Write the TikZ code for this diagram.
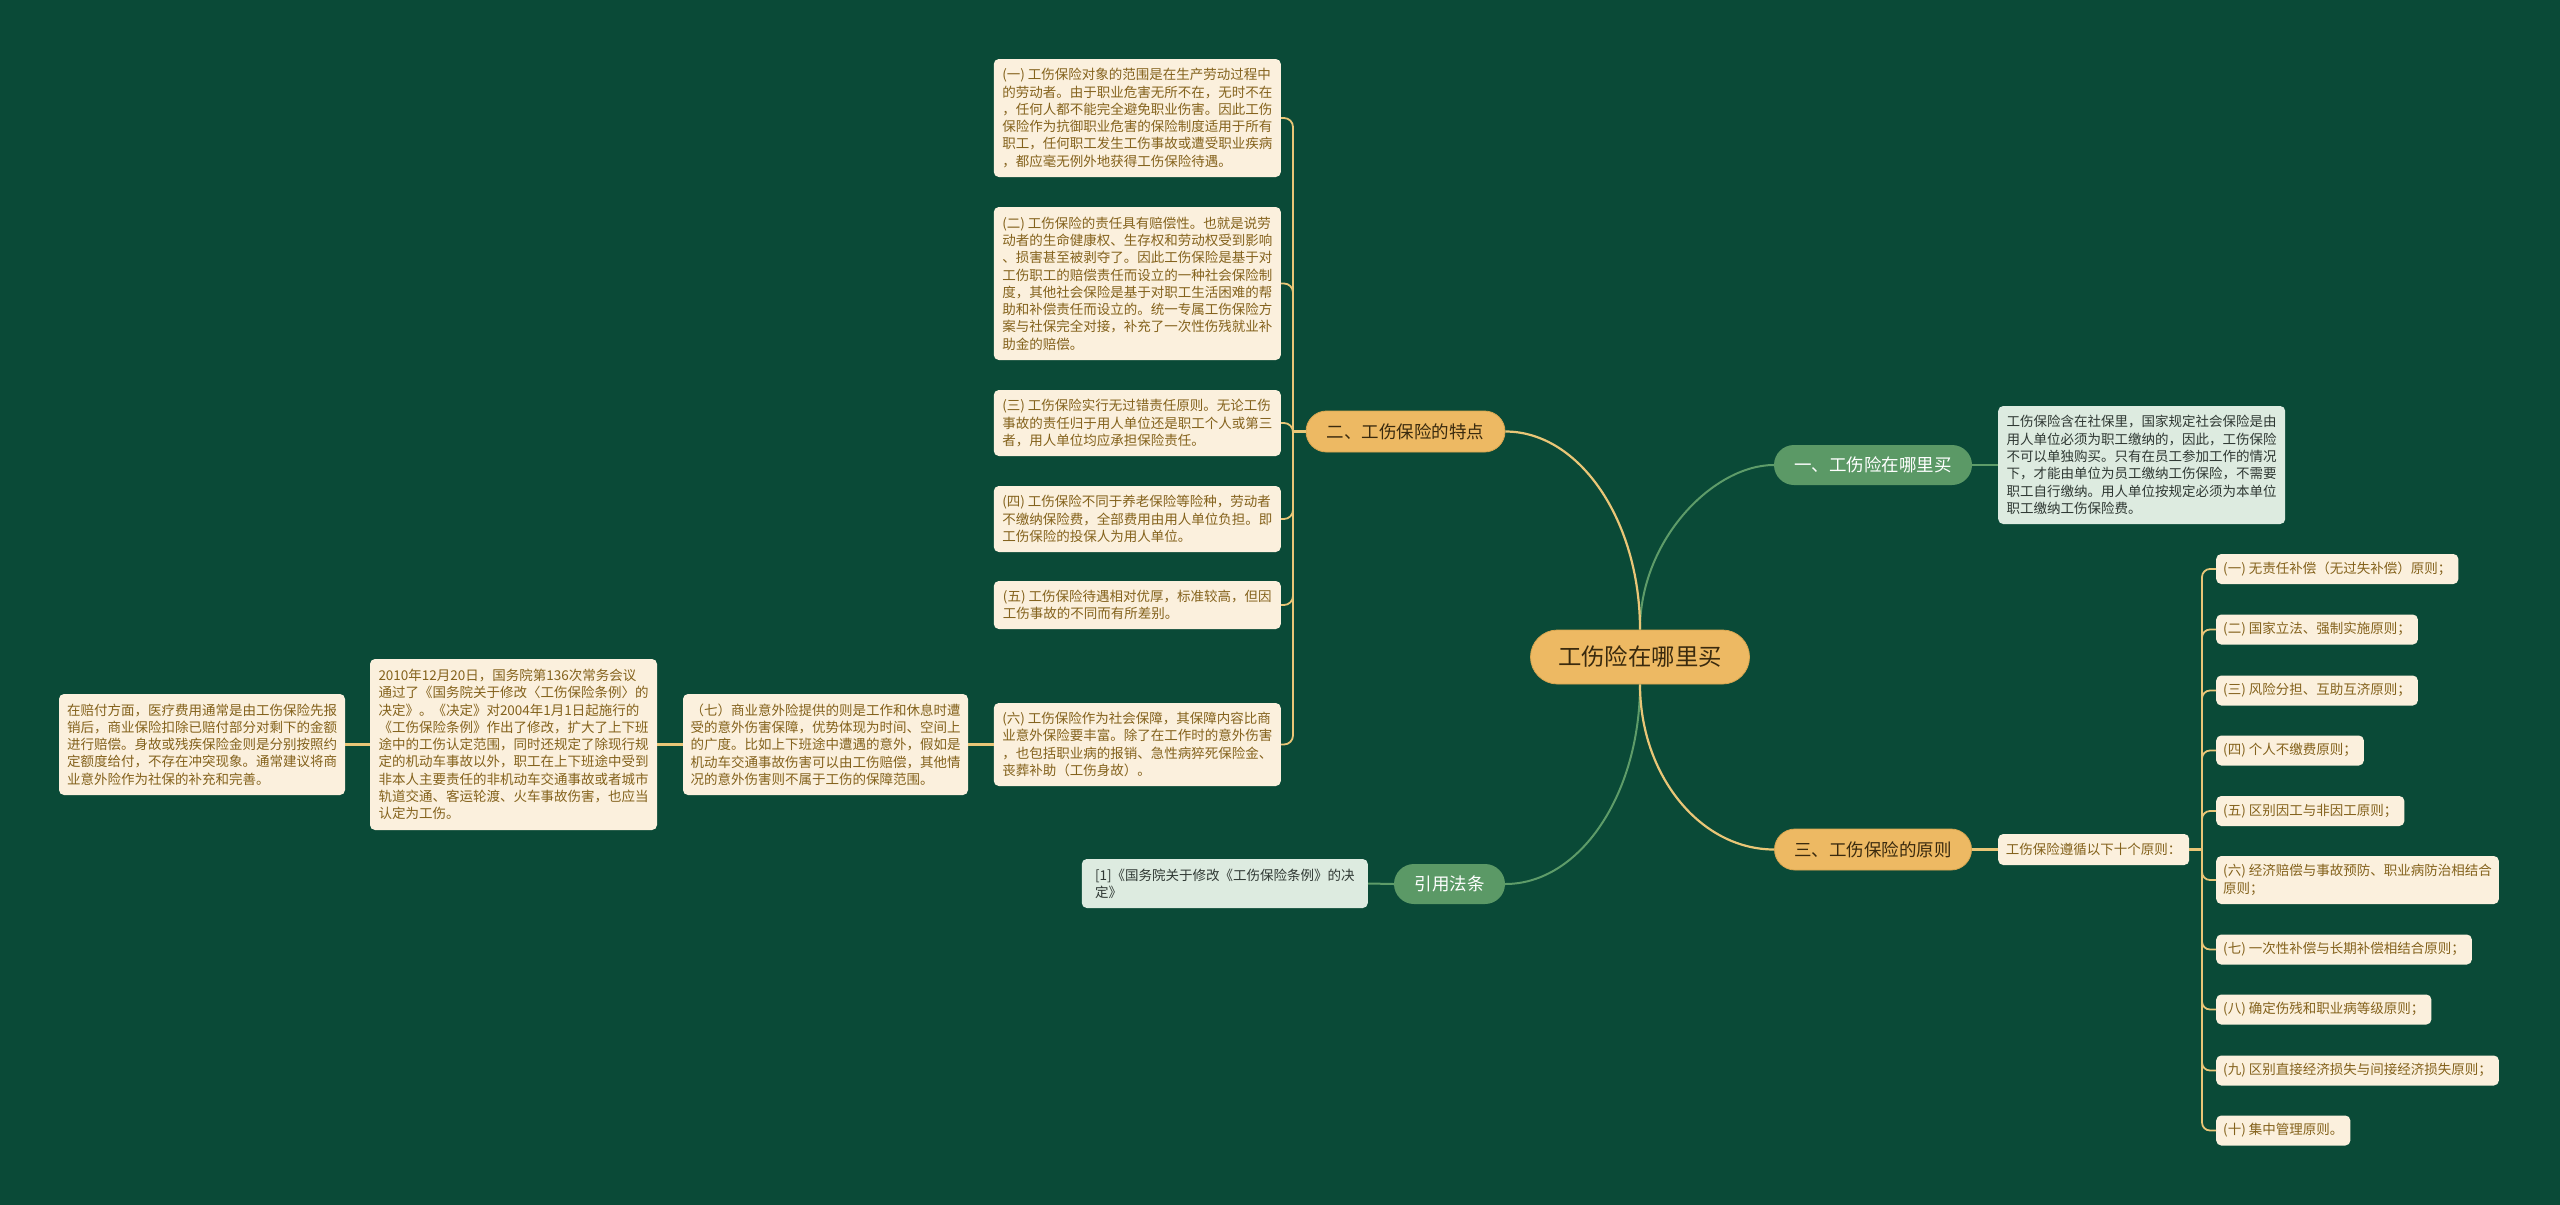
\documentclass[tikz,border=0pt]{standalone}
\usepackage{fontspec}
\newfontfamily\cjk{Noto Sans CJK SC}
\usetikzlibrary{calc}
\definecolor{bgc}{HTML}{0A4A37}
\definecolor{goldn}{HTML}{EDB963}
\definecolor{goldb}{HTML}{D9A650}
\definecolor{goldl}{HTML}{E9C677}
\definecolor{greenn}{HTML}{5B9966}
\definecolor{greenl}{HTML}{5E9C69}
\definecolor{cream}{HTML}{FBF0DD}
\definecolor{creamt}{HTML}{84621C}
\definecolor{lgreen}{HTML}{DDEBE0}
\definecolor{lgreent}{HTML}{2F3833}
\definecolor{darkt}{HTML}{3A2A0E}
\tikzset{
  centernode/.style={fill=goldn, draw=goldb, line width=0.8pt, rounded corners=27pt, minimum width=219pt, minimum height=54pt, inner sep=0pt, text=darkt, font=\cjk\fontsize{23.4}{28}\selectfont},
  goldtopic/.style={fill=goldn, draw=goldb, line width=0.8pt, rounded corners=20.5pt, minimum width=#1, minimum height=41pt, inner sep=0pt, text=darkt, font=\cjk\fontsize{17.5}{21}\selectfont},
  greentopic/.style={fill=greenn, rounded corners=20pt, minimum width=#1, minimum height=40pt, inner sep=0pt, text=white, font=\cjk\fontsize{17.5}{21}\selectfont},
  cbox/.style 2 args={fill=cream, rounded corners=5pt, minimum width=#1, minimum height=#2, inner xsep=7pt, inner ysep=0pt, align=left, text=creamt, font=\cjk\fontsize{13.5}{17.3}\selectfont},
  gbox/.style 2 args={fill=lgreen, rounded corners=5pt, minimum width=#1, minimum height=#2, inner xsep=7pt, inner ysep=0pt, align=left, text=lgreent, font=\cjk\fontsize{13.5}{17.3}\selectfont},
  ibox/.style={fill=cream, rounded corners=5pt, minimum height=#1, inner xsep=7pt, inner ysep=0pt, align=left, text=creamt, font=\cjk\fontsize{13.5}{17.3}\selectfont},
  ibox/.default=30pt,
  goldline/.style={draw=goldl, line width=2.2pt},
  greenline/.style={draw=greenl, line width=2pt}
}
\begin{document}
\begin{tikzpicture}[x=1pt,y=-1pt]
\fill[bgc] (0,0) rectangle (2560,1205);
\useasboundingbox (0,0) rectangle (2560,1205);

% main and topics
\node[centernode] (c) at (1640,657) {工伤险在哪里买};
\node[goldtopic=199pt] (n2) at (1405.5,431.5) {二、工伤保险的特点};
\node[greentopic=198pt] (n1) at (1873,465) {一、工伤险在哪里买};
\node[goldtopic=197pt] (n3) at (1873,849.5) {三、工伤保险的原则};
\node[greentopic=111pt] (nr) at (1449.5,884) {引用法条};

% branch one
\node[gbox={287pt}{118pt}, anchor=west] (r1) at (1998,465) {工伤保险含在社保里，国家规定社会保险是由\\用人单位必须为职工缴纳的，因此，工伤保险\\不可以单独购买。只有在员工参加工作的情况\\下，才能由单位为员工缴纳工伤保险，不需要\\职工自行缴纳。用人单位按规定必须为本单位\\职工缴纳工伤保险费。};

% reference
\node[gbox={286pt}{49pt}, anchor=east] (ref) at (1368,883.5) {[1]《国务院关于修改《工伤保险条例》的决\\定》};

% branch two boxes
\node[cbox={287pt}{118pt}, anchor=east] (b1) at (1281,118) {(一) 工伤保险对象的范围是在生产劳动过程中\\的劳动者。由于职业危害无所不在，无时不在\\，任何人都不能完全避免职业伤害。因此工伤\\保险作为抗御职业危害的保险制度适用于所有\\职工，任何职工发生工伤事故或遭受职业疾病\\，都应毫无例外地获得工伤保险待遇。};
\node[cbox={287pt}{153pt}, anchor=east] (b2) at (1281,283.5) {(二) 工伤保险的责任具有赔偿性。也就是说劳\\动者的生命健康权、生存权和劳动权受到影响\\、损害甚至被剥夺了。因此工伤保险是基于对\\工伤职工的赔偿责任而设立的一种社会保险制\\度，其他社会保险是基于对职工生活困难的帮\\助和补偿责任而设立的。统一专属工伤保险方\\案与社保完全对接，补充了一次性伤残就业补\\助金的赔偿。};
\node[cbox={287pt}{66pt}, anchor=east] (b3) at (1281,423) {(三) 工伤保险实行无过错责任原则。无论工伤\\事故的责任归于用人单位还是职工个人或第三\\者，用人单位均应承担保险责任。};
\node[cbox={287pt}{66pt}, anchor=east] (b4) at (1281,519) {(四) 工伤保险不同于养老保险等险种，劳动者\\不缴纳保险费，全部费用由用人单位负担。即\\工伤保险的投保人为用人单位。};
\node[cbox={287pt}{48pt}, anchor=east] (b5) at (1281,605) {(五) 工伤保险待遇相对优厚，标准较高，但因\\工伤事故的不同而有所差别。};
\node[cbox={287pt}{83pt}, anchor=east] (b6) at (1281,744.5) {(六) 工伤保险作为社会保障，其保障内容比商\\业意外保险要丰富。除了在工作时的意外伤害\\，也包括职业病的报销、急性病猝死保险金、\\丧葬补助（工伤身故）。};
\node[cbox={285pt}{101pt}] (q7) at (825.5,744.5) {（七）商业意外险提供的则是工作和休息时遭\\受的意外伤害保障，优势体现为时间、空间上\\的广度。比如上下班途中遭遇的意外，假如是\\机动车交通事故伤害可以由工伤赔偿，其他情\\况的意外伤害则不属于工伤的保障范围。};
\node[cbox={287pt}{171pt}] (b2010) at (513.5,744.5) {2010年12月20日，国务院第136次常务会议\\通过了《国务院关于修改〈工伤保险条例〉的\\决定》。《决定》对2004年1月1日起施行的\\《工伤保险条例》作出了修改，扩大了上下班\\途中的工伤认定范围，同时还规定了除现行规\\定的机动车事故以外，职工在上下班途中受到\\非本人主要责任的非机动车交通事故或者城市\\轨道交通、客运轮渡、火车事故伤害，也应当\\认定为工伤。};
\node[cbox={286pt}{101pt}] (bpay) at (202,744.5) {在赔付方面，医疗费用通常是由工伤保险先报\\销后，商业保险扣除已赔付部分对剩下的金额\\进行赔偿。身故或残疾保险金则是分别按照约\\定额度给付，不存在冲突现象。通常建议将商\\业意外险作为社保的补充和完善。};

% branch three
\node[cbox={191pt}{31pt}, anchor=west] (rule) at (1998,849.5) {工伤保险遵循以下十个原则：};
\node[ibox, anchor=west] (i1) at (2216,569) {(一) 无责任补偿（无过失补偿）原则；};
\node[ibox, anchor=west] (i2) at (2216,629.5) {(二) 国家立法、强制实施原则；};
\node[ibox, anchor=west] (i3) at (2216,690.5) {(三) 风险分担、互助互济原则；};
\node[ibox, anchor=west] (i4) at (2216,750.5) {(四) 个人不缴费原则；};
\node[ibox, anchor=west] (i5) at (2216,811) {(五) 区别因工与非因工原则；};
\node[ibox=48pt, anchor=west] (i6) at (2216,880) {(六) 经济赔偿与事故预防、职业病防治相结合\\原则；};
\node[ibox, anchor=west] (i7) at (2216,949.5) {(七) 一次性补偿与长期补偿相结合原则；};
\node[ibox, anchor=west] (i8) at (2216,1009.5) {(八) 确定伤残和职业病等级原则；};
\node[ibox, anchor=west] (i9) at (2216,1070.5) {(九) 区别直接经济损失与间接经济损失原则；};
\node[ibox, anchor=west] (i10) at (2216,1130.5) {(十) 集中管理原则。};

% connectors from centre
\draw[greenline] (c.north) .. controls (1640,539) and (1714,465) .. (n1.west);
\draw[greenline] (c.south) .. controls (1640,794) and (1580,884) .. (nr.east);
\draw[goldline] (c.north) .. controls (1640,520.7) and (1579.5,431.5) .. (n2.east);
\draw[goldline] (c.south) .. controls (1640,775) and (1700,849.5) .. (n3.west);

\draw[greenline] (n1.east) -- (r1.west);
\draw[greenline] (nr.west) -- (ref.east);
\draw[goldline] (n3.east) -- (rule.west);

\coordinate (j2) at (1293,431.5);
\draw[goldline] (n2.west) -- (j2);
\foreach \b in {b1,b2,b3,b4,b5,b6}{
  \draw[goldline, line width=1.8pt, rounded corners=9pt] (j2) |- (\b.east);
}
\draw[goldline] (b6.west) -- (q7.east);
\draw[goldline] (q7.west) -- (b2010.east);
\draw[goldline] (b2010.west) -- (bpay.east);

\coordinate (j3) at (2202,849.5);
\draw[goldline] (rule.east) -- (j3);
\foreach \i in {i1,i2,i3,i4,i5,i6,i7,i8,i9,i10}{
  \draw[goldline, line width=1.8pt, rounded corners=8pt] (j3) |- (\i.west);
}
\end{tikzpicture}
\end{document}
